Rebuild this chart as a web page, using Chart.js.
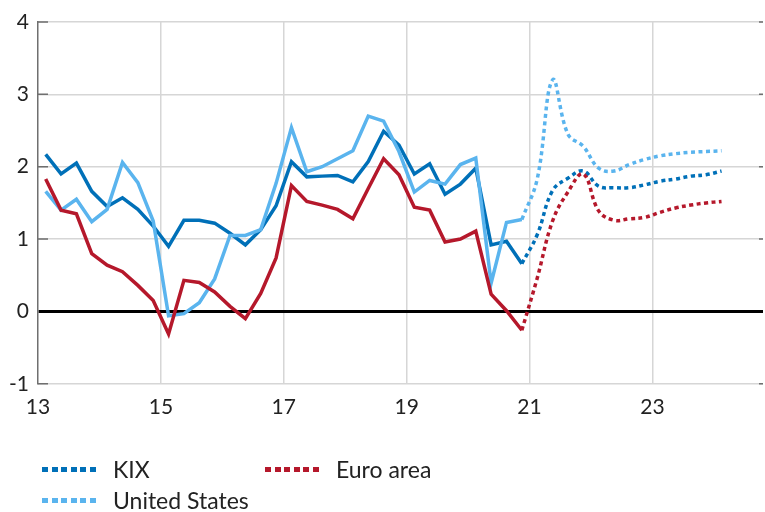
<!DOCTYPE html>
<html>
<head>
<meta charset="utf-8">
<script src="https://cdn.jsdelivr.net/npm/chart.js@4/dist/chart.umd.min.js"></script>
<style>
  body { margin: 0; background: #fff; }
  #wrap { position: relative; width: 765px; height: 512px; }
  .item { position: absolute; display: flex; align-items: center; font-family: Lato, sans-serif; font-size: 23px; color: #222; }
  .swatch { display: inline-block; width: 58px; height: 5px; margin-right: 13px;
    background: repeating-linear-gradient(90deg, var(--c) 0 6px, transparent 6px 9.6px); }
</style>
</head>
<body>
<div id="wrap">
  <canvas id="kixChart" width="765" height="512"></canvas>
  <div class="item" style="left:42px; top:455px"><span class="swatch" style="--c:#0070b8"></span><span>KIX</span></div>
  <div class="item" style="left:265px; top:455px"><span class="swatch" style="--c:#b5182b"></span><span>Euro area</span></div>
  <div class="item" style="left:42px; top:486px"><span class="swatch" style="--c:#5ab4ee"></span><span>United States</span></div>
</div>
<script>
// Kvartal 2013K1 - 2020K4 (utfall), prognos 2021K1 - 2024K1
const firstYear = 13;
const histCount = 32;
const fcCount = 13;

// x-axelns etiketter (år)
const xTicks = [13, 15, 17, 19, 21, 23];
const yTicks = [-1, 0, 1, 2, 3, 4];

// Utfall, procent
const kixHist = [2.17, 1.90, 2.05, 1.66, 1.45, 1.57, 1.41, 1.18,
  0.90, 1.26, 1.26, 1.22, 1.08, 0.92, 1.13, 1.46,
  2.07, 1.86, 1.87, 1.88, 1.79, 2.07, 2.49, 2.30,
  1.90, 2.04, 1.62, 1.76, 1.98, 0.92, 0.97, 0.66];
const usHist = [1.66, 1.40, 1.55, 1.24, 1.41, 2.06, 1.78, 1.25,
  -0.06, -0.03, 0.12, 0.45, 1.05, 1.05, 1.13, 1.77,
  2.54, 1.93, 2.00, 2.11, 2.22, 2.70, 2.63, 2.21,
  1.65, 1.81, 1.76, 2.03, 2.12, 0.39, 1.23, 1.27];
const euroHist = [1.83, 1.40, 1.35, 0.80, 0.64, 0.55, 0.36, 0.15,
  -0.31, 0.43, 0.40, 0.27, 0.07, -0.10, 0.25, 0.74,
  1.74, 1.52, 1.47, 1.41, 1.28, 1.70, 2.11, 1.89,
  1.44, 1.40, 0.96, 1.00, 1.11, 0.24, 0.01, -0.26];

// Prognos
const kixFc = [1.06, 1.67, 1.84, 1.94, 1.73, 1.71, 1.71, 1.75, 1.80, 1.83, 1.87, 1.89, 1.94];
const usFc = [1.83, 3.20, 2.45, 2.28, 1.98, 1.94, 2.03, 2.10, 2.15, 2.18, 2.20, 2.21, 2.22];
const euroFc = [0.46, 1.25, 1.65, 1.90, 1.39, 1.26, 1.28, 1.30, 1.37, 1.43, 1.47, 1.50, 1.52];

const colors = { kix: "#0070b8", us: "#5ab4ee", euro: "#b5182b" };

// kvartal i -> mitten av kvartalet på årsaxeln
const qx = (i) => firstYear + (i + 0.5) / 4;

function histPoints(vals) {
  return vals.map((v, i) => ({ x: qx(i), y: v }));
}
// prognosen startar i sista utfallet
function fcPoints(hist, fc) {
  const last = histCount - 1;
  return [{ x: qx(last), y: hist[last] }].concat(fc.map((v, i) => ({ x: qx(histCount + i), y: v })));
}

function line(data, color, dotted) {
  return {
    data: data,
    borderColor: color,
    borderWidth: 3.5,
    borderDash: dotted ? [4, 3.5] : [],
    borderCapStyle: "butt",
    tension: dotted ? 0.4 : 0,
    pointRadius: 0,
    fill: false,
  };
}

// små inåtriktade streck vid y-axeln
const yTickMarks = {
  id: "yTickMarks",
  beforeDatasetsDraw(chart) {
    const { ctx, chartArea, scales } = chart;
    ctx.save();
    ctx.strokeStyle = "#6f6f6f";
    ctx.lineWidth = 1.5;
    yTicks.forEach((v) => {
      if (v === 0) return;
      const y = scales.y.getPixelForValue(v);
      ctx.beginPath();
      ctx.moveTo(chartArea.left, y);
      ctx.lineTo(chartArea.left + 10, y);
      ctx.moveTo(chartArea.right - 4, y);
      ctx.lineTo(chartArea.right, y);
      ctx.stroke();
    });
    ctx.restore();
  },
};

Chart.defaults.font.family = "Lato, sans-serif";
Chart.defaults.font.size = 21;
Chart.defaults.color = "#222";

new Chart(document.getElementById("kixChart"), {
  type: "line",
  data: {
    datasets: [
      line(histPoints(euroHist), colors.euro, false),
      line(histPoints(usHist), colors.us, false),
      line(histPoints(kixHist), colors.kix, false),
      line(fcPoints(euroHist, euroFc), colors.euro, true),
      line(fcPoints(usHist, usFc), colors.us, true),
      line(fcPoints(kixHist, kixFc), colors.kix, true),
    ],
  },
  options: {
    responsive: false,
    animation: false,
    layout: { padding: { top: 22, right: 2, bottom: 81, left: 0 } },
    plugins: { legend: { display: false }, tooltip: { enabled: false } },
    scales: {
      x: {
        type: "linear",
        min: 13,
        max: 24.8,
        afterBuildTicks: (s) => { s.ticks = xTicks.map((v) => ({ value: v })); },
        ticks: { padding: 11, maxRotation: 0, callback: (v) => String(v) },
        grid: {
          color: (c) => (c.tick && c.tick.value === 13 ? "rgba(0,0,0,0)" : "#d6d6d6"),
          lineWidth: 1.5,
          drawTicks: false,
        },
        border: { display: false },
      },
      y: {
        min: -1,
        max: 4,
        afterBuildTicks: (s) => { s.ticks = yTicks.map((v) => ({ value: v })); },
        afterFit: (s) => { s.width = 38; },
        ticks: { padding: 9 },
        grid: {
          color: (c) => (c.tick && c.tick.value === 0 ? "#000" : "#d6d6d6"),
          lineWidth: (c) => (c.tick && c.tick.value === 0 ? 3 : 1.5),
          drawTicks: false,
        },
        border: { color: "#6f6f6f", width: 1.5 },
      },
    },
  },
  plugins: [yTickMarks],
});
</script>
</body>
</html>
